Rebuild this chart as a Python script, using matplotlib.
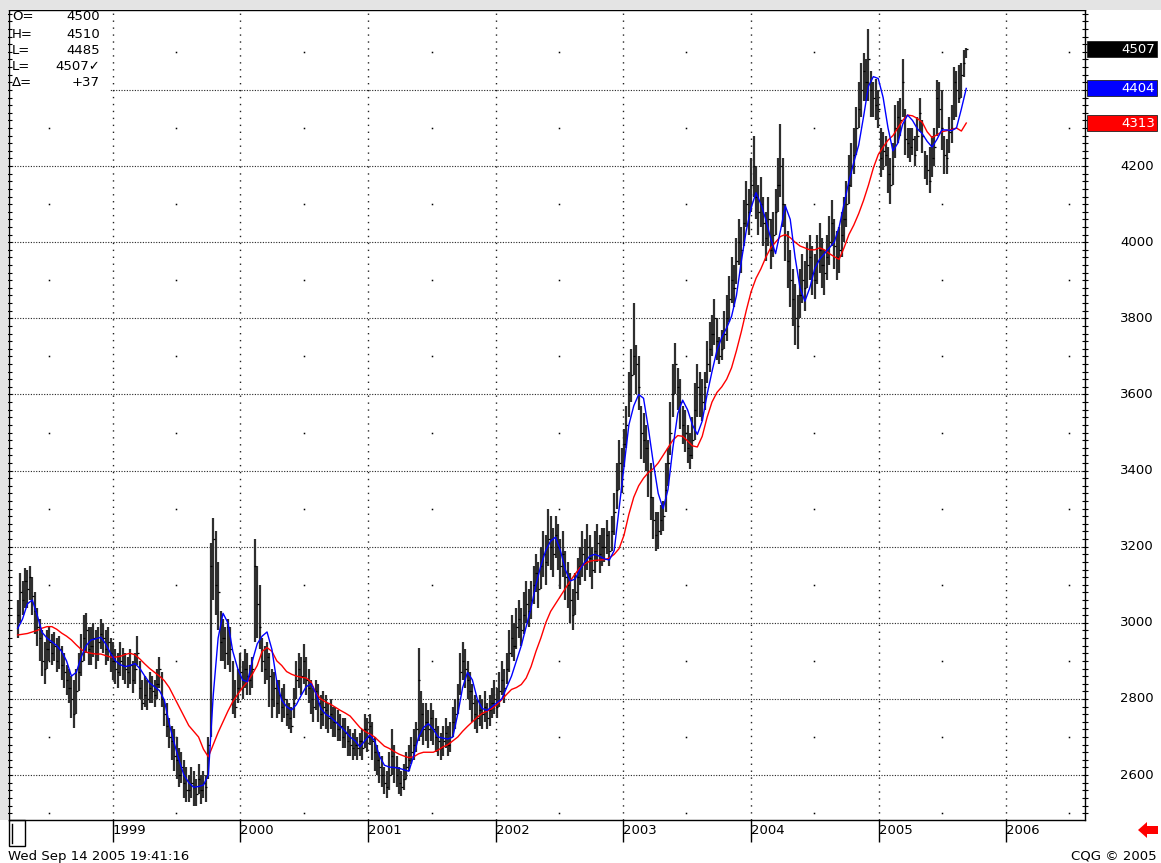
from datetime import datetime
import pandas as pd
import matplotlib
matplotlib.use('Agg')
import matplotlib.pyplot as plt
import matplotlib.dates as mdates
from matplotlib.patches import Rectangle, Polygon
from matplotlib.ticker import MultipleLocator

plt.rcParams['font.family'] = ['DejaVu Sans']

W, H = 1161, 863
FS = 9.5

# weekly bars, one row per 10 weeks (last row 9)
closes = [
    3020, 3080, 3060, 3110, 3090, 3120, 3070, 3030, 2990, 2960,
    2900, 2880, 2930, 2950, 2920, 2940, 2900, 2930, 2890, 2870,
    2850, 2830, 2800, 2760, 2820, 2870, 2900, 2960, 2980, 2930,
    2940, 2960, 2920, 2950, 2970, 2960, 2930, 2950, 2920, 2900,
    2880, 2870, 2900, 2890, 2880, 2870, 2890, 2850, 2880, 2920,
    2830, 2790, 2810, 2800, 2830, 2820, 2810, 2840, 2880, 2800,
    2760, 2730, 2700, 2690, 2650, 2640, 2600, 2620, 2580, 2560,
    2560, 2580, 2570, 2550, 2590, 2560, 2580, 2570, 2680, 3150,
    3220, 3100, 3080, 2950, 2960, 2920, 2990, 2930, 2800, 2780,
    2830, 2870, 2850, 2880, 2860, 2850, 2880, 3150, 3050, 2990,
    2900, 2880, 2910, 2860, 2800, 2830, 2790, 2810, 2780, 2800,
    2760, 2750, 2730, 2790, 2850, 2880, 2860, 2900, 2850, 2830,
    2800, 2780, 2820, 2790, 2760, 2780, 2770, 2750, 2760, 2740,
    2740, 2720, 2730, 2700, 2710, 2690, 2680, 2670, 2680, 2670,
    2690, 2670, 2720, 2700, 2730, 2690, 2660, 2640, 2620, 2600,
    2580, 2570, 2600, 2650, 2620, 2600, 2580, 2570, 2590, 2620,
    2640, 2660, 2680, 2720, 2850, 2760, 2720, 2740, 2720, 2750,
    2720, 2700, 2690, 2670, 2690, 2710, 2680, 2700, 2740, 2760,
    2800, 2870, 2900, 2880, 2850, 2820, 2790, 2760, 2750, 2770,
    2760, 2780, 2750, 2770, 2790, 2800, 2780, 2820, 2850, 2830,
    2880, 2920, 2960, 2940, 2990, 3010, 2980, 3020, 3050, 3030,
    3060, 3100, 3130, 3090, 3150, 3180, 3160, 3220, 3200, 3180,
    3230, 3200, 3150, 3180, 3120, 3100, 3060, 3020, 3080, 3120,
    3150, 3180, 3160, 3200, 3170, 3140, 3190, 3210, 3180, 3200,
    3200, 3230, 3190, 3240, 3290, 3350, 3420, 3400, 3470, 3520,
    3600, 3650, 3700, 3680, 3620, 3500, 3480, 3460, 3400, 3330,
    3270, 3230, 3240, 3270, 3280, 3350, 3420, 3500, 3600, 3680,
    3620, 3580, 3520, 3500, 3460, 3440, 3480, 3560, 3620, 3600,
    3580, 3620, 3680, 3720, 3760, 3800, 3740, 3700, 3720, 3760,
    3800, 3850, 3900, 3880, 3950, 4000, 3980, 4050, 4100, 4080,
    4150, 4200, 4120, 4080, 4100, 4050, 4010, 4060, 3980, 4020,
    4080, 4150, 4200, 4100, 4020, 3950, 3900, 3850, 3800, 3780,
    3860, 3900, 3880, 3940, 3960, 3920, 3900, 3950, 3980, 3940,
    3920, 3960, 4000, 4050, 3990, 3960, 3980, 4020, 4060, 4100,
    4150, 4200, 4230, 4300, 4350, 4400, 4450, 4420, 4480, 4400,
    4380, 4360, 4350, 4220, 4240, 4230, 4180, 4150, 4200, 4300,
    4330, 4320, 4420, 4270, 4260, 4250, 4270, 4230, 4280, 4340,
    4280, 4200, 4190, 4160, 4220, 4250, 4380, 4350, 4300, 4230,
    4220, 4290, 4300, 4420, 4400, 4380, 4440, 4470, 4507,
]

highs = [
    3060, 3130, 3110, 3145, 3140, 3150, 3120, 3080, 3040, 3010,
    2980, 2950, 2980, 2990, 2970, 2975, 2960, 2965, 2940, 2920,
    2890, 2880, 2860, 2850, 2880, 2920, 2970, 3020, 3025, 2990,
    2990, 3000, 2980, 2990, 3010, 3000, 2980, 2990, 2960, 2950,
    2930, 2920, 2950, 2935, 2920, 2910, 2930, 2900, 2920, 2965,
    2900, 2850, 2860, 2850, 2870, 2860, 2850, 2880, 2910, 2870,
    2800, 2790, 2750, 2730, 2720, 2700, 2670, 2660, 2640, 2620,
    2600, 2620, 2610, 2590, 2630, 2600, 2610, 2600, 2700, 3210,
    3275, 3240, 3160, 3030, 3010, 2990, 3010, 2990, 2900, 2850,
    2880, 2920, 2900, 2930, 2920, 2890, 2910, 3220, 3150, 3100,
    2960, 2940, 2950, 2920, 2880, 2870, 2850, 2850, 2830, 2840,
    2800, 2790, 2780, 2830, 2900, 2920, 2910, 2945, 2910, 2880,
    2850, 2830, 2850, 2840, 2810, 2820, 2810, 2790, 2800, 2780,
    2780, 2770, 2760, 2750, 2750, 2730, 2720, 2710, 2720, 2700,
    2710, 2720, 2760, 2750, 2760, 2740, 2700, 2680, 2660, 2650,
    2620, 2610, 2660, 2720, 2680, 2650, 2620, 2610, 2630, 2660,
    2680, 2700, 2720, 2740, 2935, 2820, 2790, 2790, 2770, 2790,
    2770, 2750, 2730, 2710, 2730, 2750, 2730, 2740, 2780, 2800,
    2840, 2920, 2950, 2930, 2900, 2870, 2840, 2810, 2800, 2810,
    2800, 2820, 2790, 2810, 2830, 2850, 2830, 2870, 2900, 2880,
    2920, 2980, 3020, 3000, 3040, 3060, 3040, 3080, 3110, 3090,
    3110, 3150, 3180, 3160, 3200, 3240, 3230, 3300, 3280, 3250,
    3280, 3260, 3220, 3240, 3190, 3160, 3130, 3090, 3130, 3170,
    3200, 3240, 3220, 3260, 3230, 3200, 3240, 3260, 3230, 3250,
    3250, 3270, 3240, 3280, 3340, 3420, 3480, 3460, 3510, 3570,
    3660, 3720, 3840, 3730, 3700, 3570, 3550, 3520, 3480, 3420,
    3330, 3290, 3290, 3310, 3320, 3420, 3460, 3580, 3680, 3735,
    3670, 3640, 3570, 3560, 3520, 3500, 3540, 3630, 3680, 3660,
    3640, 3660, 3740, 3790, 3810, 3850, 3800, 3750, 3770, 3820,
    3860, 3910, 3960, 3940, 4010, 4060, 4040, 4110, 4160, 4140,
    4220, 4280, 4200, 4150, 4170, 4120, 4080, 4120, 4060, 4080,
    4140, 4220, 4310, 4220, 4100, 4030, 3980, 3930, 3890, 3860,
    3930, 3970, 3950, 4000, 4020, 3990, 3970, 4020, 4050, 4010,
    3980, 4020, 4070, 4110, 4060, 4030, 4040, 4080, 4120, 4160,
    4230, 4260, 4300, 4355, 4420, 4470, 4497, 4480, 4560, 4450,
    4420, 4430, 4400, 4300, 4290, 4280, 4250, 4220, 4260, 4360,
    4370, 4380, 4480, 4350, 4300, 4300, 4300, 4280, 4330, 4380,
    4320, 4240, 4230, 4250, 4280, 4300, 4426, 4420, 4400, 4280,
    4270, 4330, 4360, 4460, 4450, 4466, 4470, 4505, 4510,
]

lows = [
    2960, 3000, 3020, 3040, 3040, 3060, 3020, 2970, 2940, 2900,
    2860, 2840, 2880, 2900, 2890, 2900, 2870, 2880, 2850, 2830,
    2810, 2790, 2750, 2725, 2760, 2820, 2860, 2900, 2920, 2890,
    2890, 2910, 2880, 2900, 2930, 2920, 2890, 2900, 2870, 2850,
    2840, 2830, 2860, 2850, 2840, 2830, 2840, 2815, 2840, 2890,
    2800, 2770, 2780, 2770, 2790, 2790, 2780, 2800, 2830, 2780,
    2730, 2700, 2670, 2640, 2610, 2590, 2570, 2580, 2540, 2530,
    2530, 2540, 2520, 2520, 2550, 2525, 2540, 2530, 2590, 2700,
    3060, 3020, 2980, 2900, 2900, 2880, 2890, 2870, 2760, 2750,
    2790, 2820, 2800, 2830, 2810, 2810, 2830, 2950, 2960, 2930,
    2870, 2840, 2850, 2780, 2750, 2780, 2750, 2760, 2740, 2750,
    2730, 2720, 2710, 2750, 2800, 2830, 2810, 2840, 2810, 2790,
    2760, 2740, 2770, 2740, 2720, 2730, 2720, 2710, 2720, 2700,
    2700, 2690, 2690, 2670, 2670, 2650, 2650, 2640, 2650, 2640,
    2650, 2640, 2670, 2660, 2680, 2640, 2610, 2600, 2580, 2570,
    2550, 2540, 2560, 2600, 2580, 2570, 2550, 2545, 2560, 2590,
    2610, 2630, 2640, 2660, 2690, 2700, 2680, 2690, 2670, 2690,
    2680, 2660, 2650, 2640, 2650, 2670, 2650, 2660, 2700, 2720,
    2760, 2810, 2850, 2830, 2800, 2770, 2740, 2720, 2710, 2730,
    2720, 2740, 2720, 2730, 2750, 2760, 2750, 2780, 2810, 2790,
    2840, 2870, 2910, 2900, 2930, 2960, 2940, 2970, 3000, 2990,
    3010, 3050, 3080, 3040, 3090, 3120, 3100, 3150, 3140, 3120,
    3170, 3140, 3090, 3120, 3060, 3040, 3000, 2980, 3020, 3060,
    3100, 3120, 3110, 3140, 3120, 3090, 3130, 3160, 3130, 3150,
    3160, 3180, 3150, 3190, 3230, 3300, 3350, 3340, 3410, 3460,
    3540, 3580, 3650, 3600, 3560, 3430, 3420, 3400, 3330, 3270,
    3220, 3190, 3195, 3230, 3240, 3290, 3360, 3440, 3540, 3600,
    3560, 3510, 3470, 3450, 3420, 3405, 3430, 3480, 3540, 3540,
    3530, 3560, 3630, 3660, 3700, 3730, 3690, 3680, 3690, 3720,
    3740, 3790, 3840, 3830, 3890, 3940, 3920, 3990, 4040, 4020,
    4080, 4120, 4060, 4020, 4040, 3990, 3950, 3990, 3930, 3960,
    4020, 4080, 4120, 4040, 3950, 3880, 3830, 3780, 3730, 3720,
    3800, 3840, 3820, 3880, 3900, 3860, 3850, 3890, 3920, 3880,
    3860, 3900, 3940, 3990, 3930, 3900, 3920, 3960, 4000, 4040,
    4100, 4145, 4180, 4230, 4300, 4330, 4370, 4370, 4370, 4330,
    4330, 4320, 4300, 4170, 4190, 4200, 4130, 4100, 4150, 4220,
    4260, 4280, 4330, 4230, 4220, 4210, 4230, 4200, 4240, 4290,
    4235, 4165, 4150, 4130, 4170, 4200, 4280, 4300, 4243, 4180,
    4180, 4235, 4260, 4320, 4330, 4366, 4380, 4434, 4485,
]

# moving averages, every second week
ma_fast = [
    2985, 3010, 3050, 3060, 3020, 2975, 2960, 2950, 2940, 2925,
    2900, 2860, 2870, 2910, 2940, 2955, 2958, 2962, 2945, 2920,
    2900, 2890, 2885, 2888, 2893, 2880, 2860, 2842, 2832, 2822,
    2797, 2735, 2685, 2640, 2600, 2580, 2568, 2570, 2574, 2600,
    2810, 2960, 3025, 3000, 2925, 2880, 2850, 2845, 2900, 2945,
    2965, 2976, 2930, 2845, 2797, 2780, 2771, 2785, 2810, 2832,
    2840, 2815, 2775, 2760, 2752, 2740, 2728, 2715, 2700, 2690,
    2674, 2690, 2705, 2690, 2650, 2626, 2621, 2620, 2618, 2614,
    2610, 2650, 2700, 2725, 2735, 2720, 2700, 2697, 2695, 2700,
    2760, 2830, 2870, 2850, 2800, 2775, 2770, 2780, 2790, 2800,
    2830, 2860, 2900, 2940, 2990, 3040, 3100, 3150, 3190, 3215,
    3225, 3190, 3140, 3110, 3115, 3140, 3160, 3175, 3180, 3175,
    3168, 3165, 3190, 3300, 3410, 3520, 3570, 3600, 3590, 3510,
    3420, 3340, 3300, 3350, 3460, 3550, 3585, 3560, 3520, 3495,
    3530, 3600, 3660, 3715, 3750, 3775, 3805, 3860, 3950, 4030,
    4090, 4130, 4100, 4060, 4010, 3970, 4030, 4095, 4060, 3960,
    3880, 3845, 3880, 3930, 3955, 3970, 3985, 4000, 4040, 4100,
    4160, 4210, 4255, 4330, 4410, 4435, 4430, 4380, 4300, 4240,
    4260, 4310, 4334, 4320, 4298, 4285, 4265, 4250, 4270, 4295,
    4295, 4293, 4300, 4350, 4404,
]

ma_slow = [
    2968, 2970, 2972, 2976, 2980, 2986, 2990, 2990, 2983, 2973,
    2965, 2955, 2942, 2930, 2923, 2920, 2918, 2918, 2914, 2910,
    2910, 2912, 2917, 2920, 2916, 2905, 2892, 2880, 2870, 2860,
    2848, 2830, 2805, 2780, 2755, 2730, 2715, 2700, 2668, 2648,
    2680, 2712, 2740, 2768, 2793, 2812, 2830, 2845, 2865, 2888,
    2925, 2935, 2925, 2900, 2888, 2872, 2865, 2860, 2857, 2855,
    2845, 2815, 2800, 2792, 2786, 2778, 2770, 2763, 2755, 2740,
    2725, 2715, 2708, 2700, 2688, 2676, 2670, 2662, 2655, 2650,
    2646, 2648, 2656, 2660, 2660, 2660, 2666, 2674, 2680, 2690,
    2700, 2715, 2728, 2740, 2752, 2762, 2768, 2775, 2785, 2798,
    2812, 2825, 2830, 2838, 2855, 2885, 2925, 2960, 3000, 3030,
    3050, 3070, 3090, 3110, 3128, 3145, 3155, 3162, 3164, 3165,
    3166, 3170, 3180, 3195, 3230, 3285, 3330, 3360, 3380, 3395,
    3405, 3420, 3440, 3460, 3480, 3492, 3490, 3478, 3465, 3462,
    3490, 3540, 3580, 3605, 3620, 3640, 3670, 3715, 3765, 3820,
    3870, 3905, 3930, 3960, 3985, 4000, 4015, 4020, 4012, 4000,
    3990, 3985, 3980, 3980, 3985, 3980, 3970, 3962, 3955, 3985,
    4020, 4045, 4075, 4110, 4150, 4195, 4230, 4250, 4268, 4280,
    4300, 4320, 4334, 4332, 4325, 4315, 4290, 4275, 4282, 4290,
    4293, 4296, 4300, 4292, 4313,
]

info_rows = [('O=', '4500'), ('H=', '4510'), ('L=', '4485'), ('L=', '4507\u2713'), ('\u0394=', '+37')]
tag_values = [4507, 4404, 4313]
tag_colors = ['#000000', '#0000ff', '#ff0000']
years = [1999, 2000, 2001, 2002, 2003, 2004, 2005, 2006]
grid_levels = [2600, 2800, 3000, 3200, 3400, 3600, 3800, 4000, 4200, 4400]
price_labels = [2600, 2800, 3000, 3200, 3400, 3600, 3800, 4000, 4200]
dot_levels = [2500, 2700, 2900, 3100, 3300, 3500, 3700, 3900, 4100, 4300, 4500]
half_years = [1998, 1999, 2000, 2001, 2002, 2003, 2004, 2005, 2006]


def fx(px):
    return px / W


def fy(py):
    return 1 - py / H


dates = pd.date_range(end='2005-09-09', periods=len(closes), freq='W-FRI')
xd = mdates.date2num(dates.to_pydatetime())
x_ma = xd[::2]

fig = plt.figure(figsize=(W / 100, H / 100), dpi=100)
fig.patch.set_facecolor('white')

# window chrome
fig.add_artist(Rectangle((0, fy(10)), 1, 10 / H, transform=fig.transFigure,
                         fc='#e4e4e4', ec='none'))
fig.add_artist(Rectangle((0, fy(820)), fx(8), 810 / H, transform=fig.transFigure,
                         fc='#e4e4e4', ec='none'))

ax = fig.add_axes([fx(9), fy(820), fx(1085) - fx(9), fy(10) - fy(820)])
px_per_day = 127.57 / 365.25
x1999 = mdates.date2num(datetime(1999, 1, 1))
ax.set_xlim(x1999 - (113 - 9) / px_per_day, x1999 + (1085 - 113) / px_per_day)
ax.set_ylim(2482, 4610)

# grid
for lvl in grid_levels:
    ax.axhline(lvl, color='#222222', lw=0.8, ls=(0, (1, 1.4)), zorder=1)
year_x = [mdates.date2num(datetime(y, 1, 1)) for y in years]
for x in year_x:
    ax.axvline(x, color='#222222', lw=1.0, ls=(0, (1, 4)), zorder=1)
for hy in half_years:
    hx = mdates.date2num(datetime(hy, 7, 1))
    ax.plot([hx] * len(dot_levels), dot_levels, 's', ms=1.1, color='black',
            mec='none', zorder=1)

ax.add_patch(Rectangle((0, 1 - 82 / 810), 101 / 1076, 82 / 810, transform=ax.transAxes,
                       fc='white', ec='none', zorder=1.5))

# price bars
ax.vlines(xd, lows, highs, colors='#2e2e2e', lw=1.6, zorder=2)
ax.hlines(closes, xd - 1.5, xd + 4.5, colors='#000000', lw=0.9, zorder=2)

ax.plot(x_ma, ma_slow, color='#ff0000', lw=1.0, zorder=3)
ax.plot(x_ma, ma_fast, color='#0000ff', lw=1.0, zorder=4)

ax.yaxis.set_major_locator(MultipleLocator(100))
ax.yaxis.set_minor_locator(MultipleLocator(20))
ax.tick_params(axis='y', which='both', left=True, right=True, direction='inout',
               length=5, width=0.8, labelleft=False, labelright=False)
ax.set_xticks(year_x)
ax.set_xticklabels([str(y) for y in years], ha='left', fontsize=FS)
ax.tick_params(axis='x', direction='out', length=16, width=1.0, pad=-13)
for lab in ax.get_xticklabels():
    lab.set_x(lab.get_position()[0])
for s in ax.spines.values():
    s.set_color('black')
    s.set_linewidth(1.0)

# right price panel
ax2 = fig.add_axes([fx(1085), fy(820), fx(1161) - fx(1085), fy(10) - fy(820)])
ax2.set_xlim(0, 76)
ax2.set_ylim(2482, 4610)
ax2.axis('off')
for p in price_labels:
    ax2.text(69, p, str(p), ha='right', va='center', fontsize=FS, color='black')
for v, c in zip(tag_values, tag_colors):
    ax2.add_patch(Rectangle((2, v - 21), 70, 42, fc=c, ec='#222222', lw=0.6))
    ax2.text(70, v, str(v), ha='right', va='center', fontsize=FS, color='white')

# last bar info
row_y = [17, 34, 50, 67, 83]
for (lab, val), ry in zip(info_rows, row_y):
    fig.text(fx(12), fy(ry), lab, ha='left', va='center', fontsize=FS)
    fig.text(fx(100), fy(ry), val, ha='right', va='center', fontsize=FS)

# bottom bits
fig.add_artist(Rectangle((fx(9), fy(846)), fx(25) - fx(9), fy(820) - fy(846),
                         transform=fig.transFigure, fill=False, ec='black', lw=1.0))
fig.add_artist(plt.Line2D([fx(12), fx(12)], [fy(843), fy(824)], transform=fig.transFigure,
                          color='black', lw=1.0))
fig.text(fx(8), fy(856), 'Wed Sep 14 2005 19:41:16', ha='left', va='center', fontsize=FS)
fig.text(fx(1157), fy(856), 'CQG \u00a9 2005', ha='right', va='center', fontsize=FS)
arrow = [(1138, 830), (1147, 822), (1147, 826), (1158, 826), (1158, 834), (1147, 834), (1147, 838)]
fig.add_artist(Polygon([(fx(a), fy(b)) for a, b in arrow], closed=True,
                       transform=fig.transFigure, fc='#ff0000', ec='none'))

fig.savefig('out.png', dpi=100)
